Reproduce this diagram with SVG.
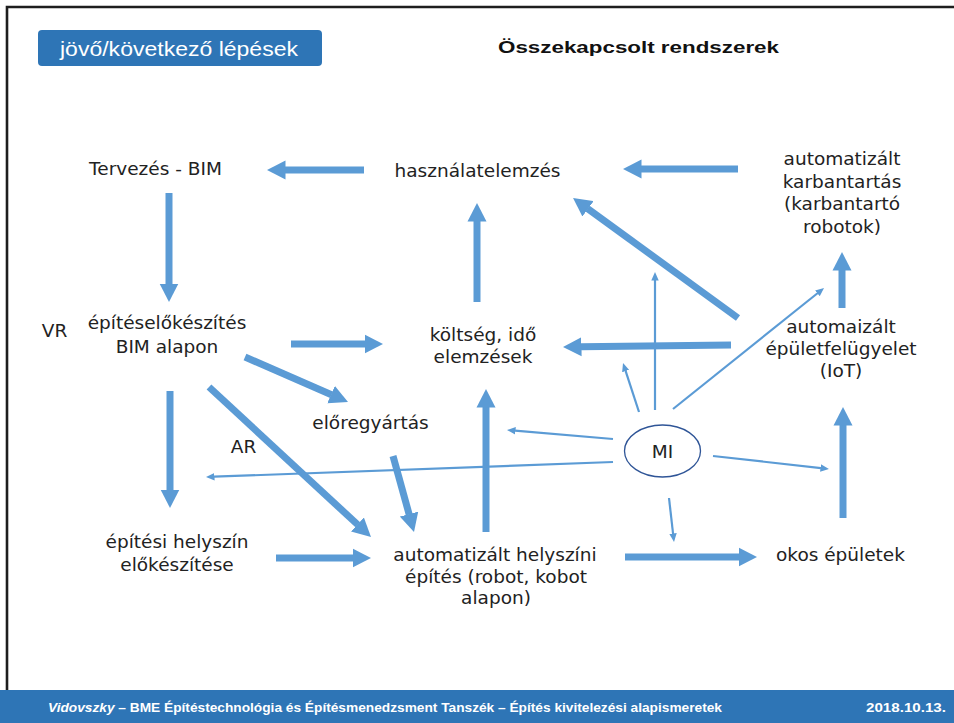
<svg xmlns="http://www.w3.org/2000/svg" width="954" height="723" viewBox="0 0 954 723">
<style>
.n{font-family:"DejaVu Sans","Noto Sans",sans-serif;font-size:18.5px;fill:#222;text-anchor:middle}
.thick{stroke:#5B9BD5;stroke-width:7;fill:none;marker-end:url(#hk)}
.thin{stroke:#5B9BD5;stroke-width:2.2;fill:none;marker-end:url(#hn)}
.ft{font-family:"Liberation Sans Narrow","Liberation Sans",sans-serif;font-weight:bold;font-size:13px;fill:#fff}
</style>
<defs>
<marker id="hk" markerUnits="userSpaceOnUse" markerWidth="19" markerHeight="20" viewBox="0 0 19 20" refX="0.5" refY="10" orient="auto">
<path d="M0,0.5 L18.5,10 L0,19.5 z" fill="#5B9BD5"/>
</marker>
<marker id="hn" markerUnits="userSpaceOnUse" markerWidth="9" markerHeight="8" viewBox="0 0 9 8" refX="0.5" refY="4" orient="auto">
<path d="M0,0.3 L8.5,4 L0,7.7 z" fill="#5B9BD5"/>
</marker>
</defs>
<rect x="0" y="0" width="954" height="723" fill="#fff"/>
<g id="frame">
<path d="M7,690 V7 H954" fill="none" stroke="#1e1e1e" stroke-width="2.6"/>
</g>
<g id="header">
<rect x="38" y="30" width="284" height="36" rx="4" fill="#2E75B6"/>
<text x="60" y="56" font-family="Liberation Sans,sans-serif" font-size="21" fill="#fff" textLength="238" lengthAdjust="spacingAndGlyphs">jövő/következő lépések</text>
<text x="498" y="53" font-family="Liberation Sans,sans-serif" font-weight="bold" font-size="17" fill="#111" textLength="281" lengthAdjust="spacingAndGlyphs">Összekapcsolt rendszerek</text>
</g>
<g id="connectors">
<line class="thick" x1="364" y1="170" x2="285" y2="170"/>
<line class="thick" x1="738" y1="169" x2="641" y2="169"/>
<line class="thick" x1="169" y1="193" x2="169" y2="284"/>
<line class="thick" x1="291" y1="344" x2="365" y2="344"/>
<line class="thick" x1="477" y1="302" x2="477" y2="221"/>
<line class="thick" x1="738" y1="318" x2="587.6" y2="208.6"/>
<line class="thick" x1="731" y1="345" x2="581" y2="346.8"/>
<line class="thick" x1="842" y1="308" x2="842" y2="270"/>
<line class="thick" x1="843" y1="518" x2="843" y2="425"/>
<line class="thick" x1="245" y1="357" x2="331.5" y2="394.8"/>
<line class="thick" x1="170" y1="391" x2="170" y2="490"/>
<line class="thick" x1="209" y1="387" x2="357.8" y2="524.8"/>
<line class="thick" x1="393" y1="456" x2="409.2" y2="514.6"/>
<line class="thick" x1="486" y1="532" x2="486" y2="407"/>
<line class="thick" x1="276" y1="558" x2="353" y2="558"/>
<line class="thick" x1="625" y1="557" x2="739" y2="557"/>
<line class="thin" x1="613" y1="439" x2="515" y2="430.7"/>
<line class="thin" x1="613" y1="462" x2="214" y2="476.7"/>
<line class="thin" x1="639" y1="412" x2="625.5" y2="370.6"/>
<line class="thin" x1="655" y1="410" x2="655" y2="280"/>
<line class="thin" x1="673" y1="409" x2="817.8" y2="293"/>
<line class="thin" x1="713" y1="456" x2="821" y2="468.1"/>
<line class="thin" x1="669" y1="498" x2="673.1" y2="534"/>
</g>
<g id="tervezes"><text class="n" x="155.5" y="175">Tervezés - BIM</text></g>
<g id="hasznalatelemzes"><text class="n" x="477.5" y="177">használatelemzés</text></g>
<g id="karbantartas"><text class="n" x="842" y="165">automatizált</text><text class="n" x="842" y="188">karbantartás</text><text class="n" x="842" y="210">(karbantartó</text><text class="n" x="842" y="233">robotok)</text></g>
<g id="vr"><text class="n" x="54.5" y="337">VR</text></g>
<g id="epiteselokeszites"><text class="n" x="167" y="329">építéselőkészítés</text><text class="n" x="167" y="353">BIM alapon</text></g>
<g id="koltseg"><text class="n" x="483" y="341">költség, idő</text><text class="n" x="483" y="363">elemzések</text></g>
<g id="epuletfelugyelet"><text class="n" x="841" y="333">automaizált</text><text class="n" x="841" y="355">épületfelügyelet</text><text class="n" x="841" y="377">(IoT)</text></g>
<g id="eloregyartas"><text class="n" x="370.5" y="429">előregyártás</text></g>
<g id="ar"><text class="n" x="243.5" y="453">AR</text></g>
<g id="mi"><ellipse cx="662.5" cy="451" rx="38" ry="26" fill="#fff" stroke="#2F5597" stroke-width="1.3"/><text class="n" x="662.5" y="458">MI</text></g>
<g id="helyszin"><text class="n" x="177" y="548">építési helyszín</text><text class="n" x="177" y="571">előkészítése</text></g>
<g id="automatizalt"><text class="n" x="495" y="561">automatizált helyszíni</text><text class="n" x="496" y="583">építés (robot, kobot</text><text class="n" x="496" y="604">alapon)</text></g>
<g id="okos"><text class="n" x="840.5" y="561">okos épületek</text></g>
<g id="footer">
<rect x="0" y="690" width="954" height="33" fill="#2E75B6"/>
<text class="ft" x="48" y="712" textLength="674" lengthAdjust="spacingAndGlyphs"><tspan font-style="italic">Vidovszky</tspan> – BME Építéstechnológia és Építésmenedzsment Tanszék – Építés kivitelezési alapismeretek</text>
<text class="ft" x="866" y="712" textLength="80" lengthAdjust="spacingAndGlyphs">2018.10.13.</text>
</g>
</svg>
